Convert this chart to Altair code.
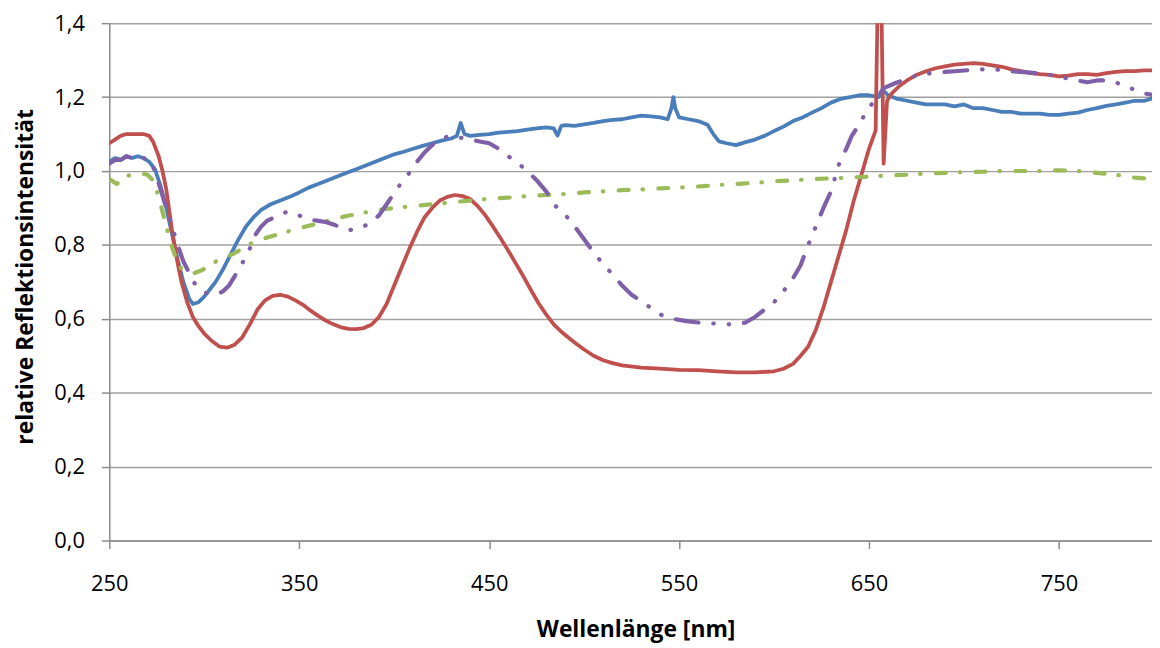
import altair as alt
import pandas as pd

# ---- data ----
blue_nm = [250, 253, 256, 259, 262, 265, 268, 271, 274, 277, 280, 283, 286, 289, 292, 294, 297, 300, 303, 306,
           310, 314, 318, 322, 326, 330, 335, 340, 345, 350, 355, 360, 365, 370, 375, 380, 385, 390, 395, 400,
           405, 410, 415, 420, 425, 430, 433, 435, 437, 440, 445, 450, 455, 460, 465, 470, 475, 480, 484, 486,
           488, 490, 495, 500, 505, 510, 515, 520, 525, 530, 535, 540, 544, 546, 547, 548, 550, 555, 560, 565,
           568, 571, 575, 580, 585, 590, 595, 600, 605, 610, 615, 620, 625, 630, 635, 640, 645, 650, 655, 657,
           660, 665, 670, 675, 680, 685, 690, 695, 700, 705, 710, 715, 720, 725, 730, 735, 740, 745, 750, 755,
           760, 765, 770, 775, 780, 785, 790, 795, 800]
blue_val = [1.025, 1.035, 1.03, 1.04, 1.035, 1.04, 1.035, 1.025, 1.005, 0.96, 0.90, 0.83, 0.76, 0.70, 0.655, 0.64, 0.645, 0.66, 0.68, 0.70,
            0.735, 0.775, 0.815, 0.85, 0.875, 0.895, 0.91, 0.92, 0.93, 0.942, 0.955, 0.965, 0.975, 0.985, 0.995, 1.005, 1.015, 1.025, 1.035, 1.045,
            1.052, 1.06, 1.068, 1.075, 1.082, 1.088, 1.095, 1.13, 1.10, 1.095, 1.098, 1.10, 1.104, 1.106, 1.108, 1.112, 1.115, 1.118, 1.115, 1.096,
            1.122, 1.124, 1.122, 1.126, 1.13, 1.135, 1.138, 1.14, 1.145, 1.15, 1.148, 1.145, 1.14, 1.17, 1.20, 1.17, 1.145, 1.14, 1.135, 1.125,
            1.10, 1.08, 1.075, 1.07, 1.078, 1.085, 1.095, 1.108, 1.12, 1.135, 1.145, 1.158, 1.17, 1.185, 1.195, 1.20, 1.205, 1.205, 1.20, 1.22,
            1.205, 1.195, 1.19, 1.185, 1.18, 1.18, 1.18, 1.175, 1.18, 1.17, 1.17, 1.165, 1.16, 1.16, 1.155, 1.155, 1.155, 1.152, 1.152, 1.155,
            1.158, 1.165, 1.17, 1.176, 1.18, 1.185, 1.19, 1.19, 1.198]

red_nm = [250, 253, 256, 259, 262, 265, 268, 271, 273, 276, 278, 280, 283, 286, 288, 291, 294, 297, 300, 304,
          308, 312, 316, 320, 324, 328, 332, 336, 340, 344, 348, 352, 356, 360, 364, 368, 372, 376, 380, 384,
          388, 392, 396, 400, 404, 408, 412, 416, 420, 424, 428, 432, 436, 440, 444, 448, 452, 456, 460, 464,
          468, 472, 476, 480, 484, 488, 492, 496, 500, 505, 510, 515, 520, 530, 540, 550, 560, 570, 580, 590,
          600, 605, 610, 614, 618, 622, 626, 630, 634, 638, 642, 646, 650, 653.5, 655.6, 657.7, 659.5, 662, 666, 670,
          675, 680, 685, 690, 695, 700, 705, 710, 715, 720, 725, 730, 735, 740, 745, 750, 755, 760, 765, 770,
          775, 780, 785, 790, 795, 800]
red_val = [1.075, 1.085, 1.095, 1.10, 1.10, 1.10, 1.10, 1.095, 1.08, 1.04, 1.0, 0.95, 0.84, 0.75, 0.70, 0.645, 0.605, 0.58, 0.56, 0.54,
           0.525, 0.522, 0.53, 0.55, 0.585, 0.625, 0.65, 0.662, 0.665, 0.66, 0.65, 0.638, 0.622, 0.608, 0.595, 0.585, 0.577, 0.573, 0.572, 0.575,
           0.584, 0.605, 0.64, 0.69, 0.74, 0.79, 0.835, 0.875, 0.90, 0.92, 0.93, 0.935, 0.932, 0.924, 0.905, 0.88, 0.85, 0.818, 0.785, 0.75,
           0.715, 0.678, 0.642, 0.612, 0.585, 0.565, 0.548, 0.532, 0.517, 0.50, 0.488, 0.48, 0.474, 0.468, 0.465, 0.462, 0.461, 0.458, 0.455, 0.455,
           0.458, 0.465, 0.478, 0.50, 0.525, 0.57, 0.63, 0.70, 0.77, 0.84, 0.92, 0.99, 1.06, 1.11, 1.80, 1.02, 1.19, 1.21, 1.23, 1.245,
           1.26, 1.27, 1.278, 1.283, 1.288, 1.29, 1.292, 1.29, 1.286, 1.282, 1.275, 1.27, 1.265, 1.262, 1.26, 1.256, 1.258, 1.262, 1.262, 1.26,
           1.265, 1.268, 1.27, 1.27, 1.272, 1.272]

green_nm = [250, 254, 258, 262, 266, 270, 273, 276, 279, 282, 285, 288, 291, 294, 298, 302, 306, 310, 315, 320,
            325, 330, 335, 340, 345, 350, 355, 360, 365, 370, 375, 380, 385, 390, 395, 400, 410, 420, 430, 440,
            450, 460, 470, 480, 490, 500, 510, 520, 530, 540, 550, 560, 570, 580, 590, 600, 610, 620, 630, 640,
            650, 660, 670, 680, 690, 700, 710, 720, 730, 740, 750, 760, 770, 780, 785, 790, 795, 800]
green_val = [0.978, 0.965, 0.985, 0.99, 0.995, 0.99, 0.975, 0.93, 0.87, 0.81, 0.765, 0.735, 0.725, 0.722, 0.73, 0.74, 0.755, 0.765, 0.775, 0.79,
             0.805, 0.815, 0.823, 0.83, 0.838, 0.845, 0.852, 0.858, 0.865, 0.872, 0.878, 0.883, 0.888, 0.893, 0.897, 0.90, 0.905, 0.91, 0.915, 0.92,
             0.925, 0.928, 0.932, 0.935, 0.938, 0.942, 0.945, 0.948, 0.95, 0.953, 0.955, 0.958, 0.962, 0.965, 0.968, 0.972, 0.975, 0.978, 0.98, 0.982,
             0.985, 0.988, 0.99, 0.993, 0.995, 0.997, 0.998, 1.0, 1.0, 1.0, 1.002, 1.0, 0.995, 0.99, 0.985, 0.982, 0.98, 0.978]

purple_nm = [250, 253, 256, 259, 262, 265, 268, 271, 274, 277, 280, 283, 286, 289, 292, 295, 298, 301, 304, 307,
             310, 313, 316, 320, 324, 327, 330, 333, 337, 341, 344, 348, 352, 356, 360, 364, 368, 372, 376, 380,
             384, 388, 392, 396, 400, 404, 408, 412, 416, 420, 424, 428, 431, 435, 440, 445, 450, 455, 460, 465,
             470, 475, 480, 485, 490, 495, 500, 505, 510, 515, 520, 525, 530, 535, 540, 545, 550, 555, 560, 565,
             570, 575, 580, 585, 590, 595, 600, 605, 610, 614, 618, 622, 626, 630, 634, 638, 641, 645, 649, 653,
             658, 664, 670, 675, 680, 685, 690, 695, 700, 705, 710, 715, 720, 725, 730, 735, 740, 745, 750, 755,
             760, 765, 770, 775, 780, 785, 790, 795, 800]
purple_val = [1.02, 1.03, 1.03, 1.04, 1.035, 1.04, 1.035, 1.03, 1.0, 0.95, 0.90, 0.85, 0.80, 0.755, 0.725, 0.695, 0.68, 0.67, 0.667, 0.667,
              0.675, 0.69, 0.715, 0.75, 0.79, 0.828, 0.85, 0.865, 0.875, 0.885, 0.89, 0.885, 0.875, 0.868, 0.865, 0.862, 0.855, 0.848, 0.84, 0.842,
              0.85, 0.862, 0.88, 0.91, 0.94, 0.97, 0.995, 1.025, 1.05, 1.07, 1.085, 1.093, 1.095, 1.09, 1.085, 1.08, 1.075, 1.06, 1.04, 1.022,
              1.0, 0.975, 0.945, 0.905, 0.882, 0.85, 0.815, 0.78, 0.748, 0.72, 0.69, 0.665, 0.648, 0.63, 0.612, 0.602, 0.597, 0.593, 0.59, 0.588,
              0.587, 0.585, 0.585, 0.59, 0.605, 0.625, 0.645, 0.675, 0.71, 0.745, 0.80, 0.85, 0.90, 0.945, 1.016, 1.06, 1.096, 1.126, 1.166, 1.19,
              1.225, 1.238, 1.25, 1.258, 1.263, 1.266, 1.268, 1.27, 1.272, 1.274, 1.275, 1.275, 1.273, 1.27, 1.268, 1.266, 1.264, 1.26, 1.255, 1.25,
              1.245, 1.24, 1.245, 1.245, 1.24, 1.228, 1.22, 1.21, 1.205]

x_ticks = [250, 350, 450, 550, 650, 750]
y_ticks = [0.0, 0.2, 0.4, 0.6, 0.8, 1.0, 1.2, 1.4]

FONT = "Open Sans"
AXIS_GRAY = "#8c8c8c"

x_enc = alt.X(
    "nm:Q",
    scale=alt.Scale(domain=[250, 799], nice=False, zero=False),
    axis=alt.Axis(
        values=x_ticks, grid=False, title="Wellenlänge [nm]",
        labelFontSize=22, labelFont=FONT, labelColor="#000000", labelPadding=25,
        tickColor=AXIS_GRAY, tickSize=8, tickWidth=1.5,
        domainColor=AXIS_GRAY, domainWidth=1.5,
        titleFont=FONT, titleFontSize=23, titleFontWeight="bold", titleColor="#000000",
        titleX=530, titleY=90, titleAlign="center", titleBaseline="middle",
        labelOverlap=False, labelFlush=False,
    ),
)
y_enc = alt.Y(
    "v:Q",
    scale=alt.Scale(domain=[0, 1.4], nice=False, zero=True),
    axis=alt.Axis(
        values=y_ticks, grid=True, gridColor="#a0a0a0", gridWidth=1.5,
        title="relative Reflektionsintensität",
        labelExpr="replace(format(datum.value, '.1f'), '.', ',')",
        labelFontSize=22, labelFont=FONT, labelColor="#000000", labelPadding=17,
        tickColor=AXIS_GRAY, tickSize=8, tickWidth=1.5,
        domainColor=AXIS_GRAY, domainWidth=1.5,
        titleFont=FONT, titleFontSize=23, titleFontWeight="bold", titleColor="#000000",
        titleX=-77, titleY=255, titleAlign="center", titleBaseline="alphabetic", titleAngle=270,
        labelOverlap=False, labelFlush=False,
    ),
)


def series(nm, val, color, width, dash=None):
    df = pd.DataFrame({"nm": nm, "v": val})
    kw = dict(color=color, strokeWidth=width, clip=True, strokeCap="round", strokeJoin="round")
    if dash:
        kw["strokeDash"] = dash
    return alt.Chart(df).mark_line(**kw).encode(x=x_enc, y=y_enc, order=alt.Order("nm:Q"))


blue = series(blue_nm, blue_val, "#4a7ebb", 3.8)
red = series(red_nm, red_val, "#c0504d", 3.8)
green = series(green_nm, green_val, "#9bbb59", 4.2, [10, 14, 0.5, 15.5])
purple = series(purple_nm, purple_val, "#7f60a8", 4.2, [23, 15, 0.5, 15, 0.5, 15])

chart = alt.layer(blue, red, green, purple).properties(
    width=1050, height=521,
    autosize=alt.AutoSizeParams(type="none"),
    padding={"left": 102, "top": 13, "right": 0, "bottom": 115},
    background="#ffffff",
).configure_view(strokeOpacity=0)

chart.save("out.html", embed_options={"renderer": "svg", "actions": False})
